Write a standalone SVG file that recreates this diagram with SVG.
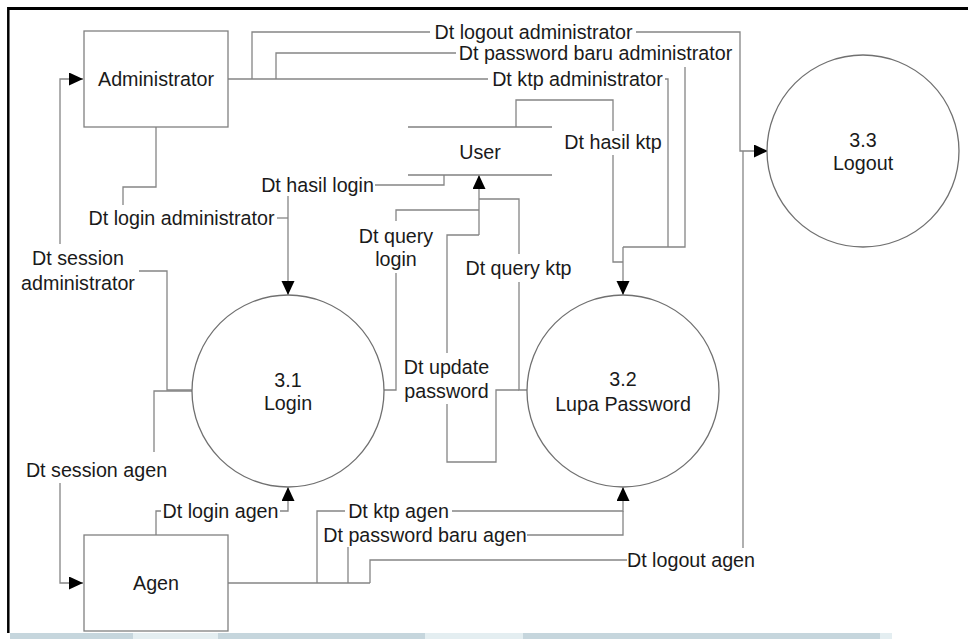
<svg xmlns="http://www.w3.org/2000/svg" width="968" height="639" viewBox="0 0 968 639">
<style>
text{font-family:"Liberation Sans",Arial,sans-serif;font-size:19.7px;fill:#1a1a1a;text-anchor:middle}
.box{fill:#fff;stroke:#808080;stroke-width:1.3}
.proc{fill:#fff;stroke:#707070;stroke-width:1.3}
.store{stroke:#808080;stroke-width:1.3;fill:none}
.c{fill:none;stroke:#858585;stroke-width:1.3}
.a{fill:none;stroke:#858585;stroke-width:1.3;marker-end:url(#ah)}
</style>
<defs>
<marker id="ah" markerUnits="userSpaceOnUse" markerWidth="15" markerHeight="14" refX="14" refY="6.5" orient="auto">
<path d="M0,0 L14,6.5 L0,13 Z" fill="#000"/>
</marker>
</defs>
<rect x="0" y="0" width="968" height="639" fill="#fff"/>
<g id="frame">
<line x1="8.3" y1="8.5" x2="968" y2="8.5" stroke="#000" stroke-width="3"/>
<line x1="8.3" y1="7" x2="8.3" y2="633" stroke="#000" stroke-width="2.5"/>
<rect x="10" y="633" width="123" height="6" fill="#c6d6dd"/>
<rect x="133" y="633" width="85" height="6" fill="#e4eef1"/>
<rect x="218" y="633" width="207" height="6" fill="#c6d6dd"/>
<rect x="425" y="633" width="98" height="6" fill="#e4eef1"/>
<rect x="523" y="633" width="357" height="6" fill="#c6d6dd"/>
<rect x="880" y="633" width="12" height="6" fill="#e4eef1"/>
</g>
<g id="connectors">
<!-- Administrator trunk & ktp admin -->
<path class="c" d="M228,79 H488"/>
<path class="c" d="M665,79 H668 V247"/>
<!-- logout admin -->
<path class="c" d="M252,79 V32 H430"/>
<path class="a" d="M636,32 H740 V151 H768"/>
<!-- password baru admin -->
<path class="c" d="M276,79 V53 H456"/>
<path class="c" d="M685,67 V247 H623"/>
<path class="a" d="M623,247 V295"/>
<!-- hasil ktp -->
<path class="c" d="M516,127 V100 H613 V131"/>
<path class="c" d="M613,155 V262 H623"/>
<!-- hasil login -->
<path class="c" d="M444,175 V185 H375"/>
<path class="a" d="M288,196 V295"/>
<!-- login administrator -->
<path class="c" d="M156,127 V187 H123 V205"/>
<path class="c" d="M277,218 H288"/>
<!-- query login -->
<path class="c" d="M384,390 H396 V273"/>
<path class="c" d="M396,221 V210 H479"/>
<path class="a" d="M479,235 V175"/>
<!-- query ktp -->
<path class="c" d="M527,390 H519 V282"/>
<path class="c" d="M519,254 V199 H479"/>
<!-- update password -->
<path class="c" d="M519,390 H496 V462 H447 V404"/>
<path class="c" d="M447,353 V235 H479"/>
<!-- session administrator -->
<path class="c" d="M192,390 H167 V271 H139"/>
<path class="a" d="M60,244 V79 H83"/>
<!-- session agen -->
<path class="c" d="M192,391 H154 V452"/>
<path class="a" d="M60,483 V583 H83"/>
<!-- login agen -->
<path class="c" d="M156,535 V511 H161"/>
<path class="a" d="M280,511 H288 V487"/>
<!-- Agen trunk -->
<path class="c" d="M228,583 H370"/>
<!-- ktp agen -->
<path class="c" d="M317,583 V511 H345"/>
<path class="a" d="M452,511 H623 V487"/>
<!-- password baru agen -->
<path class="c" d="M348,583 V547"/>
<path class="c" d="M527,535 H623 V511"/>
<!-- logout agen -->
<path class="c" d="M370,583 V560 H627"/>
<path class="c" d="M743,548 V151"/>
</g>
<g id="labels">
<text x="533.5" y="38.5">Dt logout administrator</text>
<text x="595.5" y="59.5">Dt password baru administrator</text>
<text x="577.5" y="85.5">Dt ktp administrator</text>
<text x="613" y="148.5">Dt hasil ktp</text>
<text x="317.5" y="191.5">Dt hasil login</text>
<text x="181.5" y="224.5">Dt login administrator</text>
<text x="78" y="264.5">Dt session</text>
<text x="78" y="289.5">administrator</text>
<text x="396" y="242.5">Dt query</text>
<text x="396" y="265.5">login</text>
<text x="518.5" y="274.5">Dt query ktp</text>
<text x="446.5" y="373.5">Dt update</text>
<text x="446.5" y="397.5">password</text>
<text x="96.5" y="476.5">Dt session agen</text>
<text x="220.5" y="517.5">Dt login agen</text>
<text x="398.5" y="517.5">Dt ktp agen</text>
<text x="425" y="541.5">Dt password baru agen</text>
<text x="691" y="566.5">Dt logout agen</text>
</g>
<g id="administrator">
<rect class="box" x="84" y="31" width="144" height="96"/>
<text x="156" y="86">Administrator</text>
</g>
<g id="agen">
<rect class="box" x="84" y="535" width="144" height="96"/>
<text x="156" y="590">Agen</text>
</g>
<g id="user">
<line class="store" x1="408" y1="127" x2="552" y2="127"/>
<line class="store" x1="408" y1="175" x2="552" y2="175"/>
<text x="480" y="158.5">User</text>
</g>
<g id="login">
<circle class="proc" cx="288" cy="391" r="96"/>
<text x="288" y="386.5">3.1</text>
<text x="288" y="410">Login</text>
</g>
<g id="lupa-password">
<circle class="proc" cx="623" cy="391" r="96"/>
<text x="623" y="386">3.2</text>
<text x="623" y="411">Lupa Password</text>
</g>
<g id="logout">
<circle class="proc" cx="863" cy="151" r="96"/>
<text x="863" y="146.5">3.3</text>
<text x="863" y="170">Logout</text>
</g>
</svg>
